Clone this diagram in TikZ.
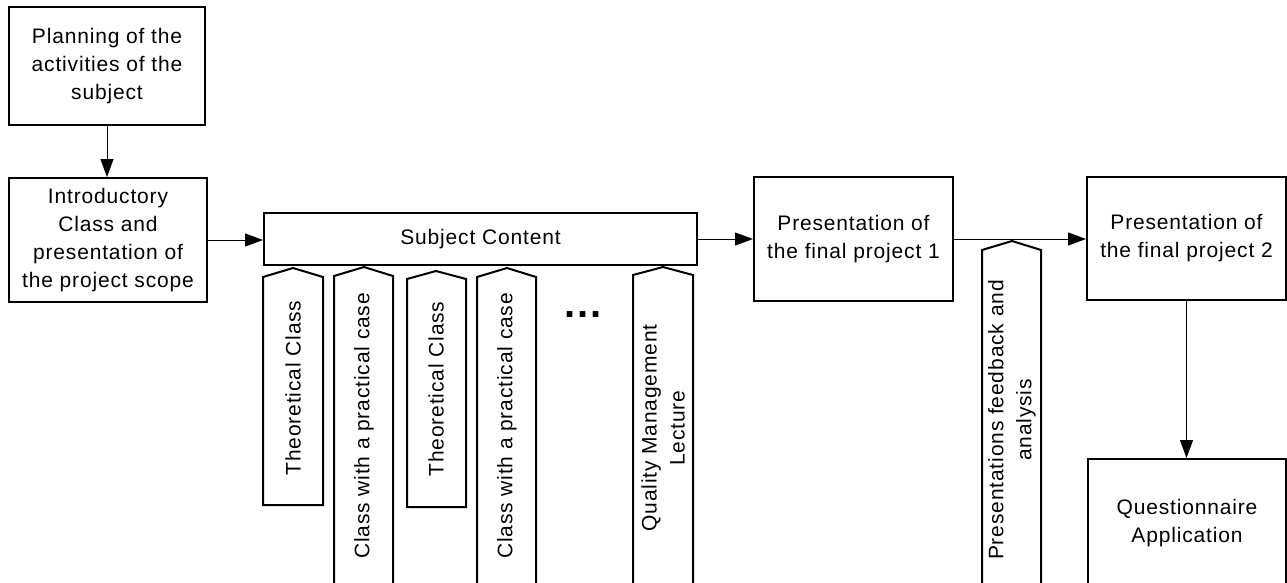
\documentclass[tikz,border=0pt]{standalone}
\usepackage{fontspec}
\setmainfont{Liberation Sans}[LetterSpace=4]
\usetikzlibrary{arrows.meta}
\tikzset{
  lbl/.style={font=\fontsize{21}{28}\selectfont, align=center, inner sep=0pt},
  stepbox/.style={draw, line width=2pt, lbl, minimum width=#1},
  flow/.style={line width=1pt, -{Triangle[length=18pt,width=13pt]}},
  tab/.style={draw, line width=2pt, line join=miter},
  vlbl/.style={lbl, rotate=90}
}
\begin{document}
\begin{tikzpicture}[x=1pt, y=-1pt]
  \useasboundingbox (0,0) rectangle (1287,582);
  \clip (0,0) rectangle (1287,582);

  % main steps
  \node[stepbox=196pt, minimum height=118pt] (plan) at (107,66)
    {Planning of the\\activities of the\\subject};
  \node[stepbox=198pt, minimum height=124pt] (intro) at (108,240)
    {\raisebox{-3pt}{\begin{tabular}{@{}c@{}}Introductory\\Class and\\presentation of\\the project scope\end{tabular}}};
  \node[stepbox=433pt, minimum height=52pt] (content) at (480.5,239)
    {Subject Content};
  \node[stepbox=199pt, minimum height=124pt] (pres1) at (853.5,239)
    {Presentation of\\the final project 1};
  \node[stepbox=199pt, minimum height=123pt] (pres2) at (1186.5,238.5)
    {Presentation of\\the final project 2};
  \node[stepbox=198pt, minimum height=128pt] (quest) at (1187,523)
    {Questionnaire\\Application};

  % activity tabs below the content bar
  \draw[tab] (263,505) -- (263,277) -- (293,268) -- (323,277) -- (323,505) -- cycle;
  \draw[tab] (334,590) -- (334,276) -- (364,267) -- (393,276) -- (393,590);
  \draw[tab] (407,507) -- (407,279) -- (436,271) -- (466,279) -- (466,507) -- cycle;
  \draw[tab] (477,590) -- (477,277) -- (507,268) -- (536,277) -- (536,590);
  \draw[tab] (633,590) -- (633,275) -- (663,267) -- (693,275) -- (693,590);
  \draw[tab] (982,590) -- (982,250) -- (1012,241) -- (1041,250) -- (1041,590);

  \node[vlbl] (theo1) at (293,388) {Theoretical Class};
  \node[vlbl] (prac1) at (364,426) {Class with a practical case};
  \node[vlbl] (theo2) at (436,389) {Theoretical Class};
  \node[vlbl] (prac2) at (507,426) {Class with a practical case};
  \node[font=\fontsize{40}{40}\selectfont\bfseries, inner sep=0pt] (more) at (583,315) {...};
  \node[vlbl] (qml) at (663,428) {Quality Management\\Lecture};
  \node[vlbl] (feed) at (1012,420) {Presentations feedback and\\analysis};

  % flow
  \draw[flow] (plan.south) -- (plan.south |- intro.north);
  \draw[flow] (intro.east) -- (intro.east -| content.west);
  \draw[flow] (content.east) -- (content.east -| pres1.west);
  \draw[flow] (pres1.east) -- (pres1.east -| pres2.west);
  \draw[flow] (pres2.south) -- (pres2.south |- quest.north);
\end{tikzpicture}
\end{document}
